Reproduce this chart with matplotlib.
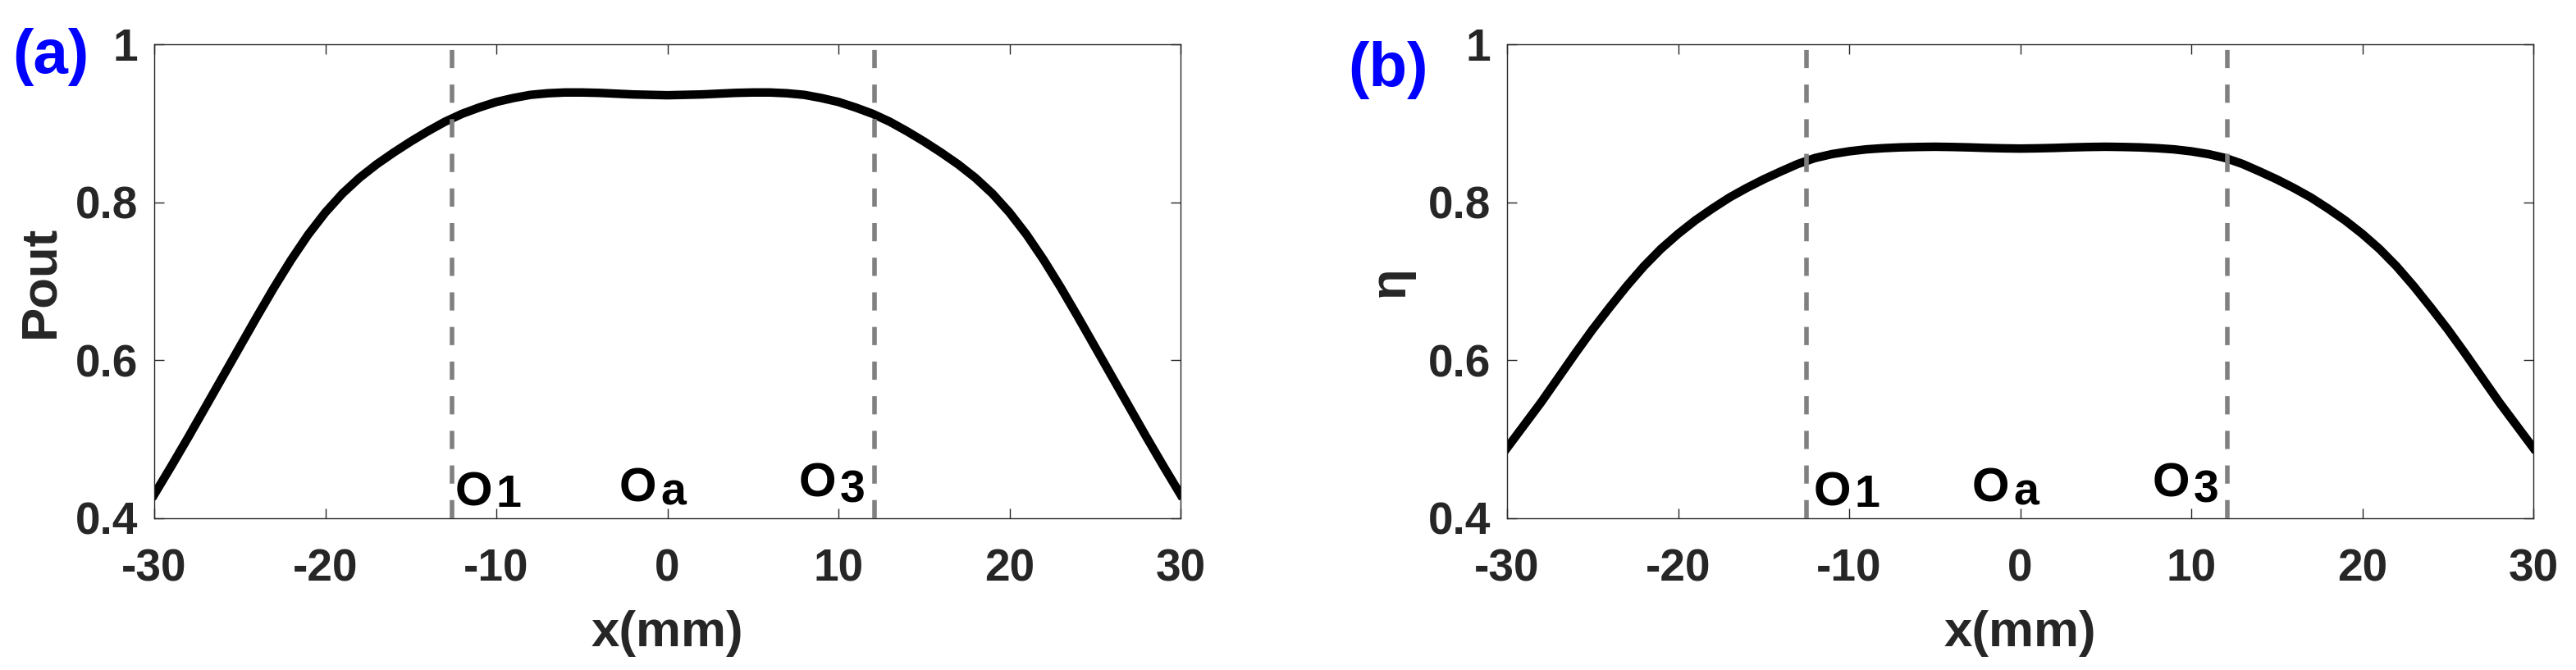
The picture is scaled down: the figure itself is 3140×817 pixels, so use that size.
import numpy as np
import matplotlib
matplotlib.use('Agg')
import matplotlib.pyplot as plt

plt.rcParams['font.family'] = ['Liberation Sans', 'DejaVu Sans']

# x positions (mm)
x_mm = [-30, -29, -28, -27, -26, -25, -24, -23, -22, -21, -20, -19, -18, -17, -16, -15,
        -14, -13, -12, -11, -10, -9, -8, -7, -6, -5, -4, -3, -2, -1, 0,
        1, 2, 3, 4, 5, 6, 7, 8, 9, 10, 11, 12, 13, 14, 15,
        16, 17, 18, 19, 20, 21, 22, 23, 24, 25, 26, 27, 28, 29, 30]

# (a) output power
pout = [0.430, 0.466, 0.503, 0.541, 0.579, 0.617, 0.655, 0.692, 0.727, 0.759, 0.787,
        0.811, 0.831, 0.848, 0.863, 0.877, 0.890, 0.902, 0.912, 0.920, 0.927,
        0.932, 0.936, 0.938, 0.939, 0.939, 0.9385, 0.9375, 0.9365, 0.936, 0.9355,
        0.936, 0.9365, 0.9375, 0.9385, 0.939, 0.939, 0.938, 0.936, 0.932, 0.927,
        0.920, 0.912, 0.902, 0.890, 0.877, 0.863, 0.848, 0.831, 0.811, 0.787,
        0.759, 0.727, 0.692, 0.655, 0.617, 0.579, 0.541, 0.503, 0.466, 0.430]

# (b) efficiency
eta = [0.489, 0.518, 0.547, 0.578, 0.609, 0.639, 0.667, 0.694, 0.719, 0.741, 0.760,
       0.777, 0.792, 0.806, 0.818, 0.829, 0.839, 0.8485, 0.856, 0.861, 0.8645,
       0.867, 0.8685, 0.8695, 0.870, 0.8703, 0.870, 0.8695, 0.8688, 0.8683, 0.868,
       0.8683, 0.8688, 0.8695, 0.870, 0.8703, 0.870, 0.8695, 0.8685, 0.867, 0.8645,
       0.861, 0.856, 0.8485, 0.839, 0.829, 0.818, 0.806, 0.792, 0.777, 0.760,
       0.741, 0.719, 0.694, 0.667, 0.639, 0.609, 0.578, 0.547, 0.518, 0.489]

# boundaries of the flat region
edges_a = [-12.6, 12.1]
edges_b = [-12.5, 12.1]

# point labels: subscript, x, y
lab_sub = ['1', 'a', '3']
lab_x_a = [-12.4, -2.8, 7.7]
lab_x_b = [-12.1, -2.8, 7.75]
lab_y = [0.4166, 0.4208, 0.427]
sub_drop = [2, 4, 7]   # px the subscript sits below the O

xticks = [-30, -20, -10, 0, 10, 20, 30]
yticks = [0.4, 0.6, 0.8, 1.0]
yticklabels = ['0.4', '0.6', '0.8', '1']

W, H = 3140, 817
fig = plt.figure(figsize=(W / 100, H / 100), dpi=100)
axc = (0.15, 0.15, 0.15)


def panel(left_px, y, edges, lab_x, ylab, lpad):
    ax = fig.add_axes([left_px / W, (H - 632) / H, 1251 / W, 578 / H])
    ax.plot(x_mm, y, color='k', linewidth=7.5, solid_joinstyle='round', zorder=2)
    for e in edges:
        ax.plot([e, e], [0.4, 1.0], color=(0.5, 0.5, 0.5), linewidth=4,
                linestyle=(0, (4, 3.6)), zorder=3)
    for i, s in enumerate(lab_sub):
        ax.text(lab_x[i], lab_y[i], 'O', fontsize=42, fontweight='bold',
                ha='left', va='baseline', color='k')
        ax.annotate(s, xy=(lab_x[i], lab_y[i]), xytext=(50, -sub_drop[i]),
                    textcoords='offset pixels', fontsize=40, fontweight='bold',
                    ha='left', va='baseline', color='k')
    ax.set_xlim(-30, 30)
    ax.set_ylim(0.4, 1.0)
    ax.set_xticks(xticks)
    ax.set_xticklabels([str(t) for t in xticks])
    ax.set_yticks(yticks)
    ax.set_yticklabels(yticklabels)
    ax.tick_params(direction='in', length=8.6, width=1.0, color=axc, top=True, right=True,
                   labelsize=39.6, labelcolor=axc)
    ax.tick_params(axis='x', pad=26)
    ax.tick_params(axis='y', pad=14)
    for lbl in ax.get_xticklabels() + ax.get_yticklabels():
        lbl.set_fontweight('bold')
    for sp in ax.spines.values():
        sp.set_color(axc)
        sp.set_linewidth(1.0)
    ax.set_xlabel('x(mm)', fontsize=44.5, fontweight='bold', color=axc, labelpad=17)
    ax.set_ylabel(ylab, fontsize=44.5, fontweight='bold', color=axc, labelpad=lpad)
    return ax


ax1 = panel(188, pout, edges_a, lab_x_a, 'Pout', 10)
ax2 = panel(1837, eta, edges_b, lab_x_b, 'η', 12.5)

fig.text(15 / W, 1 - 89 / H, '(a)', color=(0, 0, 1), fontsize=55, fontweight='bold',
         ha='left', va='baseline')
fig.text(1643 / W, 1 - 105 / H, '(b)', color=(0, 0, 1), fontsize=55, fontweight='bold',
         ha='left', va='baseline')

plt.savefig('out.png', dpi=100, facecolor='white')
